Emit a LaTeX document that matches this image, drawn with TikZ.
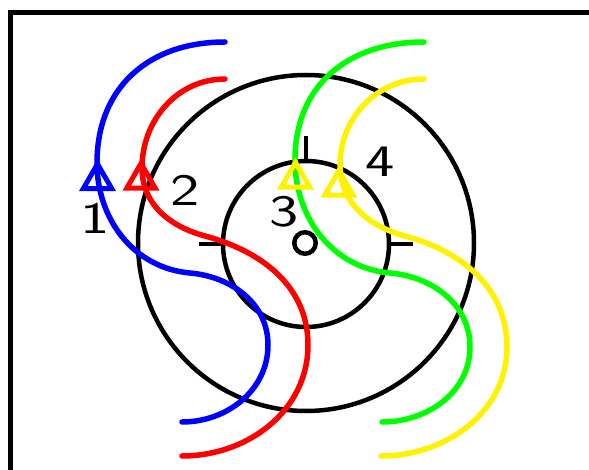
\documentclass[tikz,border=0pt]{standalone}
\usepackage{graphicx}
\usepackage{tikz}
\usetikzlibrary{shapes.geometric}
\newcommand{\wide}[1]{\scalebox{1.38}[1]{#1}}
\tikzset{
  ring/.style={circle,draw=black,line width=4.5pt,inner sep=0pt},
  stub/.style={draw=black,line width=4.5pt},
  swirl/.style={line width=5.5pt,line cap=round},
  tri/.style={regular polygon,regular polygon sides=3,draw,line width=5pt,
              minimum size=33pt,inner sep=0pt},
  num/.style={font=\sffamily\fontsize{45}{45}\selectfont,inner sep=0pt}
}

\begin{document}
\begin{tikzpicture}[x=1pt,y=1pt]
  \useasboundingbox[fill=white] (0,0) rectangle (589,-470);
  % frame
  \draw[line width=5pt] (10.5,-480) -- (10.5,-12.5) -- (600,-12.5);
  % rings
  \node[ring,minimum size=336pt] (outer) at (306,-243) {};
  \node[ring,minimum size=166pt] (inner) at (306,-244) {};
  \node[ring,minimum size=21.5pt] (hub) at (305,-243) {};
  \draw[stub] (inner.north) -- ++(0,23);
  \draw[stub] (inner.west) -- ++(-22,0);
  \draw[stub] (inner.east) -- ++(22,0);
  % swirls
  \draw[swirl,blue] (225,-42) to[out=180,in=90,looseness=1.1] (97,-163)
    to[out=-90,in=175] (190,-273) to[out=-5,in=90] (268,-345)
    to[out=-90,in=0] (182,-422);
  \draw[swirl,red] (225,-79) to[out=180,in=90] (142,-168)
    to[out=-90,in=165] (205,-236) to[out=-15,in=90] (308,-345)
    to[out=-90,in=0] (182,-456);
  \draw[swirl,green] (424,-42) to[out=180,in=90,looseness=1.1] (295,-160)
    to[out=-90,in=175] (390,-273) to[out=-5,in=90] (470,-347)
    to[out=-90,in=0] (382,-422);
  \draw[swirl,yellow] (424,-79) to[out=180,in=90] (340,-165)
    to[out=-90,in=165] (405,-236) to[out=-15,in=90] (507,-347)
    to[out=-90,in=0] (381,-456);
  % heads and numbers
  \node[tri,draw=blue] (t1) at (97.5,-180.5) {};
  \node[tri,draw=red] (t2) at (141,-180) {};
  \node[tri,draw=yellow] (t3) at (295.5,-179) {};
  \node[tri,draw=yellow] (t4) at (339,-187) {};
  \node[num] (n1) at (95,-218) {\wide{1}};
  \node[num] (n2) at (185,-190) {\wide{2}};
  \node[num] (n3) at (284,-212) {\wide{3}};
  \node[num] (n4) at (380,-162) {\wide{4}};
\end{tikzpicture}
\end{document}
